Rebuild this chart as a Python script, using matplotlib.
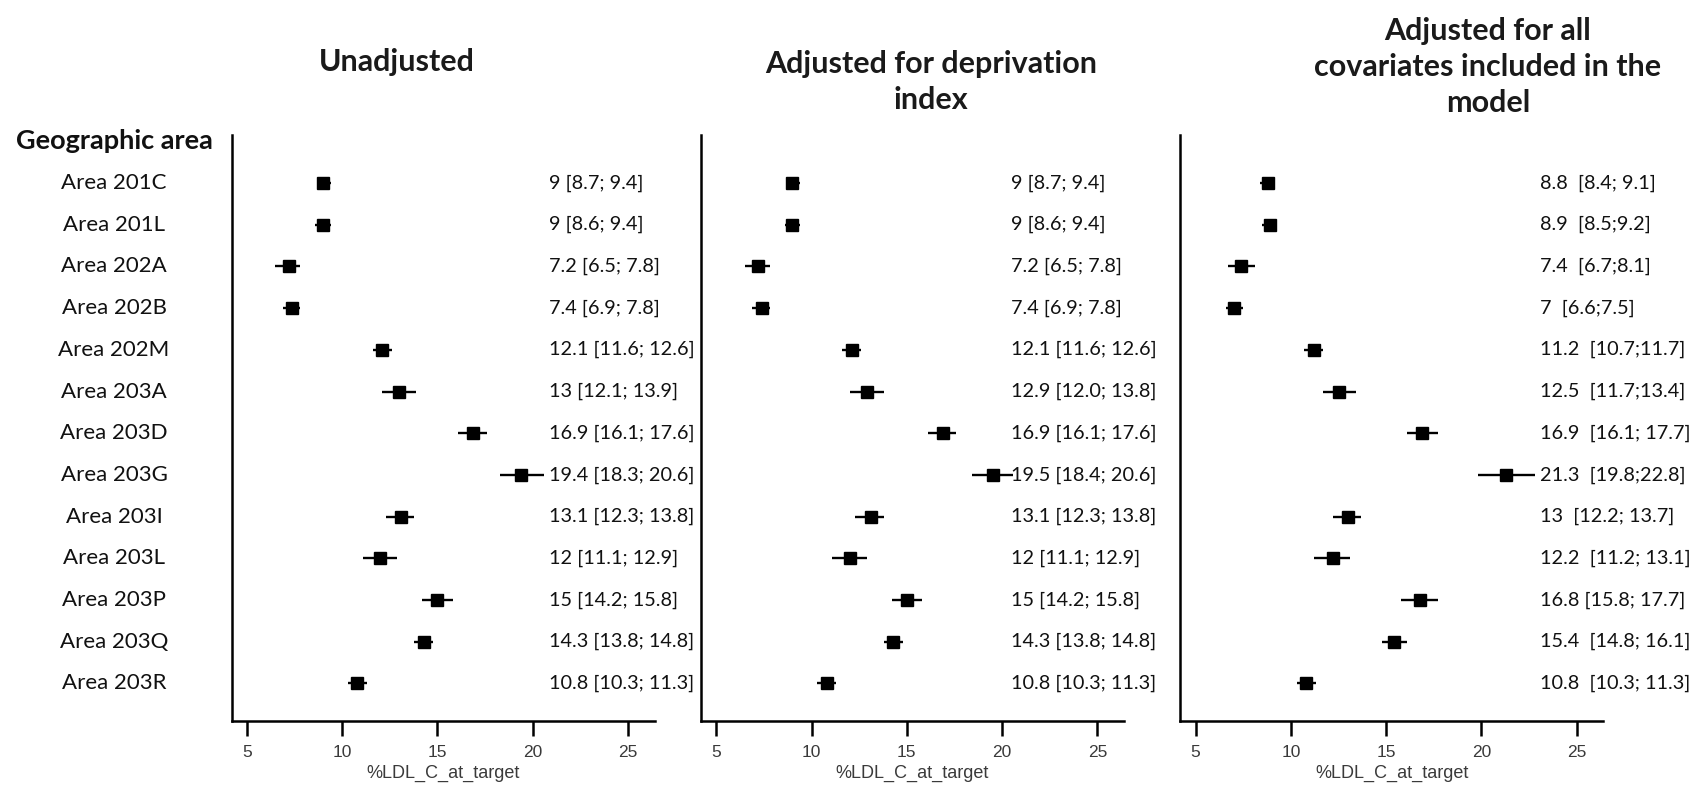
import matplotlib
matplotlib.use("Agg")
import matplotlib.pyplot as plt
import matplotlib.transforms as mtransforms

# Forest plot: % LDL-C at target by geographic area, three models

areas = ["Area 201C", "Area 201L", "Area 202A", "Area 202B", "Area 202M",
         "Area 203A", "Area 203D", "Area 203G", "Area 203I", "Area 203L",
         "Area 203P", "Area 203Q", "Area 203R"]

# Unadjusted
unadj_est = [9, 9, 7.2, 7.4, 12.1, 13, 16.9, 19.4, 13.1, 12, 15, 14.3, 10.8]
unadj_low = [8.7, 8.6, 6.5, 6.9, 11.6, 12.1, 16.1, 18.3, 12.3, 11.1, 14.2, 13.8, 10.3]
unadj_high = [9.4, 9.4, 7.8, 7.8, 12.6, 13.9, 17.6, 20.6, 13.8, 12.9, 15.8, 14.8, 11.3]
unadj_text = ["9 [8.7; 9.4]", "9 [8.6; 9.4]", "7.2 [6.5; 7.8]", "7.4 [6.9; 7.8]",
              "12.1 [11.6; 12.6]", "13 [12.1; 13.9]", "16.9 [16.1; 17.6]",
              "19.4 [18.3; 20.6]", "13.1 [12.3; 13.8]", "12 [11.1; 12.9]",
              "15 [14.2; 15.8]", "14.3 [13.8; 14.8]", "10.8 [10.3; 11.3]"]

# Adjusted for deprivation index
dep_est = [9, 9, 7.2, 7.4, 12.1, 12.9, 16.9, 19.5, 13.1, 12, 15, 14.3, 10.8]
dep_low = [8.7, 8.6, 6.5, 6.9, 11.6, 12.0, 16.1, 18.4, 12.3, 11.1, 14.2, 13.8, 10.3]
dep_high = [9.4, 9.4, 7.8, 7.8, 12.6, 13.8, 17.6, 20.6, 13.8, 12.9, 15.8, 14.8, 11.3]
dep_text = ["9 [8.7; 9.4]", "9 [8.6; 9.4]", "7.2 [6.5; 7.8]", "7.4 [6.9; 7.8]",
            "12.1 [11.6; 12.6]", "12.9 [12.0; 13.8]", "16.9 [16.1; 17.6]",
            "19.5 [18.4; 20.6]", "13.1 [12.3; 13.8]", "12 [11.1; 12.9]",
            "15 [14.2; 15.8]", "14.3 [13.8; 14.8]", "10.8 [10.3; 11.3]"]

# Adjusted for all covariates
full_est = [8.8, 8.9, 7.4, 7, 11.2, 12.5, 16.9, 21.3, 13, 12.2, 16.8, 15.4, 10.8]
full_low = [8.4, 8.5, 6.7, 6.6, 10.7, 11.7, 16.1, 19.8, 12.2, 11.2, 15.8, 14.8, 10.3]
full_high = [9.1, 9.2, 8.1, 7.5, 11.7, 13.4, 17.7, 22.8, 13.7, 13.1, 17.7, 16.1, 11.3]
full_text = ["8.8  [8.4; 9.1]", "8.9  [8.5;9.2]", "7.4  [6.7;8.1]", "7  [6.6;7.5]",
             "11.2  [10.7;11.7]", "12.5  [11.7;13.4]", "16.9  [16.1; 17.7]",
             "21.3  [19.8;22.8]", "13  [12.2; 13.7]", "12.2  [11.2; 13.1]",
             "16.8 [15.8; 17.7]", "15.4  [14.8; 16.1]", "10.8  [10.3; 11.3]"]

titles = ["Unadjusted", "Adjusted for deprivation\nindex",
          "Adjusted for all\ncovariates included in the\nmodel"]
xticks = [5, 10, 15, 20, 25]
xlabel = "%LDL_C_at_target"

W, H = 1698, 791
fig = plt.figure(figsize=(W / 100, H / 100), dpi=100)

label_font = "Lato"
tick_font = "Liberation Sans"

# axes boxes in pixels: left edge, then shared width / top / bottom
lefts = [231.5, 701.0, 1180.4]
ax_w, ax_top, ax_bot = 423, 135, 721
text_x = [20.88, 20.49, 23.08]
title_xy = [(397, 62), (931, 82), (1488, 67)]

panels = [
    (unadj_est, unadj_low, unadj_high, unadj_text),
    (dep_est, dep_low, dep_high, dep_text),
    (full_est, full_low, full_high, full_text),
]

rows = list(range(len(areas)))
axes = []
for i, (est, low, high, txt) in enumerate(panels):
    ax = fig.add_axes([lefts[i] / W, 1 - ax_bot / H, ax_w / W, (ax_bot - ax_top) / H])
    axes.append(ax)
    for r in rows:
        ax.plot([low[r], high[r]], [r, r], color="black", lw=1.7, solid_capstyle="butt")
    ax.plot(est, rows, "s", color="black", markersize=9, linestyle="none")
    for r in rows:
        ax.text(text_x[i], r, txt[r], va="center", ha="left", fontsize=14.3,
                family=label_font, color="#111111", clip_on=False)

    ax.set_xlim(4.2, 26.4)
    ax.set_ylim(12.9, -1.15)
    ax.set_xticks(xticks)
    ax.set_yticks([])
    ax.spines["top"].set_visible(False)
    ax.spines["right"].set_visible(False)
    ax.spines["left"].set_linewidth(1.8)
    ax.spines["bottom"].set_linewidth(1.8)
    ax.tick_params(axis="x", length=11, width=1.8, pad=6, labelsize=12.5, colors="black")
    for lab in ax.get_xticklabels():
        lab.set_family(tick_font)
        lab.set_color("#3a3a3a")
    ax.set_xlabel(xlabel, fontsize=13, family=tick_font, color="#3a3a3a", labelpad=4)

    tx, ty = title_xy[i]
    fig.text(tx / W, 1 - ty / H, titles[i], ha="center", va="center",
             multialignment="center", fontsize=22, fontweight="bold",
             family=label_font, color="#1a1a1a", linespacing=1.33)

# row labels to the left of the first panel
trans = mtransforms.blended_transform_factory(fig.transFigure, axes[0].transData)
axes[0].text(114 / W, -1.0, "Geographic area", transform=trans, ha="center", va="center",
             fontsize=19.5, fontweight="bold", family=label_font, color="#111111", clip_on=False)
for r in rows:
    axes[0].text(114 / W, r, areas[r], transform=trans, ha="center", va="center",
                 fontsize=16, family=label_font, color="#111111", clip_on=False)

fig.savefig("out.png", dpi=100, facecolor="white")
